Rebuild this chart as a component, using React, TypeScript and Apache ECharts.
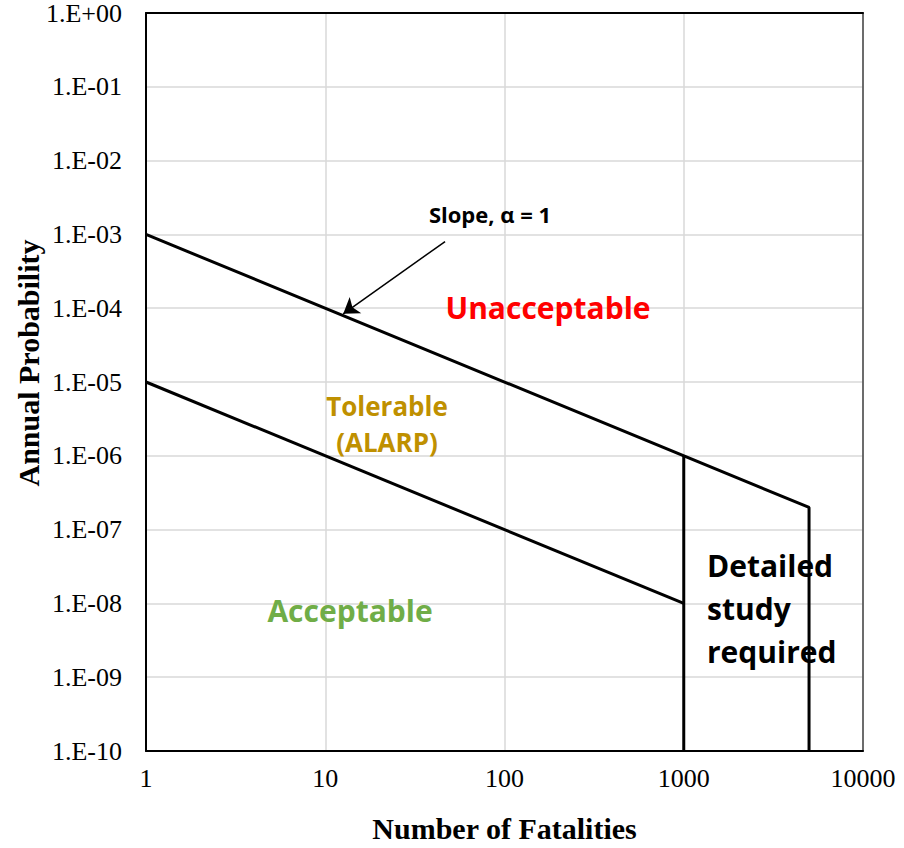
import React, { useEffect, useRef } from "react";
import * as echarts from "echarts";

const upperLine: [number, number][] = [[1, 1e-3], [5000, 2e-7], [5000, 1e-10]];
const lowerLine: [number, number][] = [[1, 1e-5], [1000, 1e-8]];
const detailLine: [number, number][] = [[1000, 1e-6], [1000, 1e-10]];
const arrowCoords: [number, number][] = [[46.6, 8.0e-4], [12.6, 8.4e-5]];
const xTicks = [1, 10, 100, 1000, 10000];
const yTickExponents = [0, -1, -2, -3, -4, -5, -6, -7, -8, -9, -10];

function fmtY(v: number): string {
  const e = Math.round(Math.log10(v));
  const a = Math.abs(e);
  return "1.E" + (e >= 0 ? "+" : "-") + (a < 10 ? "0" + a : "" + a);
}

export default function App() {
  const ref = useRef<HTMLDivElement>(null);
  useEffect(() => {
    if (!ref.current) return;
    const chart = echarts.init(ref.current, null, { renderer: "svg" });
    const lineStyleMain = { color: "#000", width: 3 };
    const annot = (x: number, y: number, text: string, fill: string, extra: any = {}) => ({
      type: "text",
      x,
      y,
      z: 100,
      style: {
        text,
        fontFamily: "Open Sans",
        fontWeight: "bold",
        fontSize: 30,
        fill,
        align: "center",
        verticalAlign: "middle",
        ...extra,
      },
    });
    const xMin = xTicks[0];
    const xMax = xTicks[xTicks.length - 1];
    const yMin = Math.pow(10, yTickExponents[yTickExponents.length - 1]);
    const yMax = Math.pow(10, yTickExponents[0]);
    chart.setOption({
      animation: false,
      backgroundColor: "#fff",
      grid: {
        left: 146,
        top: 11,
        right: 41,
        bottom: 94,
      },
      xAxis: [
        {
          type: "log",
          logBase: 10,
          min: xMin,
          max: xMax,
          interval: 1,
          name: "Number of Fatalities",
          nameLocation: "middle",
          nameGap: 62,
          nameTextStyle: {
            fontFamily: "Liberation Serif",
            fontWeight: "bold",
            fontSize: 30,
            color: "#000",
          },
          axisLine: { show: true, lineStyle: { color: "#000", width: 2 } },
          axisTick: { show: false },
          axisLabel: {
            fontFamily: "Liberation Serif",
            fontSize: 26,
            color: "#000",
            margin: 14,
            formatter: (v: number) => String(Math.round(v)),
          },
          splitLine: { show: true, lineStyle: { color: "#d9d9d9", width: 1.5 } },
        },
        {
          type: "log",
          logBase: 10,
          min: xMin,
          max: xMax,
          position: "top",
          axisLine: { show: true, lineStyle: { color: "#000", width: 2 } },
          axisTick: { show: false },
          axisLabel: { show: false },
          splitLine: { show: false },
        },
      ],
      yAxis: [
        {
          type: "log",
          logBase: 10,
          min: yMin,
          max: yMax,
          interval: 1,
          axisLine: { show: true, lineStyle: { color: "#000", width: 2 } },
          axisTick: { show: false },
          axisLabel: {
            fontFamily: "Liberation Serif",
            fontSize: 26,
            color: "#000",
            margin: 24,
            formatter: fmtY,
          },
          splitLine: { show: true, lineStyle: { color: "#d9d9d9", width: 1.5 } },
        },
        {
          type: "log",
          logBase: 10,
          min: yMin,
          max: yMax,
          position: "right",
          axisLine: { show: true, lineStyle: { color: "#444", width: 1.5 } },
          axisTick: { show: false },
          axisLabel: { show: false },
          splitLine: { show: false },
        },
      ],
      series: [
        { type: "line", data: upperLine, symbol: "none", lineStyle: lineStyleMain },
        { type: "line", data: lowerLine, symbol: "none", lineStyle: lineStyleMain },
        { type: "line", data: detailLine, symbol: "none", lineStyle: lineStyleMain },
        {
          type: "lines",
          coordinateSystem: "cartesian2d",
          symbol: ["none", "arrow"],
          symbolSize: 15,
          lineStyle: { color: "#000", width: 1.5, opacity: 1 },
          data: [{ coords: arrowCoords }],
        },
      ],
      graphic: [
        {
          type: "text",
          x: 28,
          y: 363,
          rotation: Math.PI / 2,
          z: 100,
          style: {
            text: "Annual Probability",
            fontFamily: "Liberation Serif",
            fontWeight: "bold",
            fontSize: 30,
            fill: "#000",
            align: "center",
            verticalAlign: "middle",
          },
        },
        annot(490, 214, "Slope, α = 1", "#000", { fontSize: 22 }),
        annot(548, 307, "Unacceptable", "#ff0000"),
        annot(387, 406, "Tolerable", "#bf9000", { fontSize: 26 }),
        annot(387, 442, "(ALARP)", "#bf9000", { fontSize: 26 }),
        annot(350, 610, "Acceptable", "#70ad47"),
        annot(707, 565, "Detailed", "#000", { align: "left" }),
        annot(707, 608, "study", "#000", { align: "left" }),
        annot(707, 651, "required", "#000", { align: "left" }),
      ],
    });
    return () => chart.dispose();
  }, []);
  return (
    <div
      ref={ref}
      style={{ position: "fixed", left: 0, top: 0, width: 904, height: 848 }}
    />
  );
}
